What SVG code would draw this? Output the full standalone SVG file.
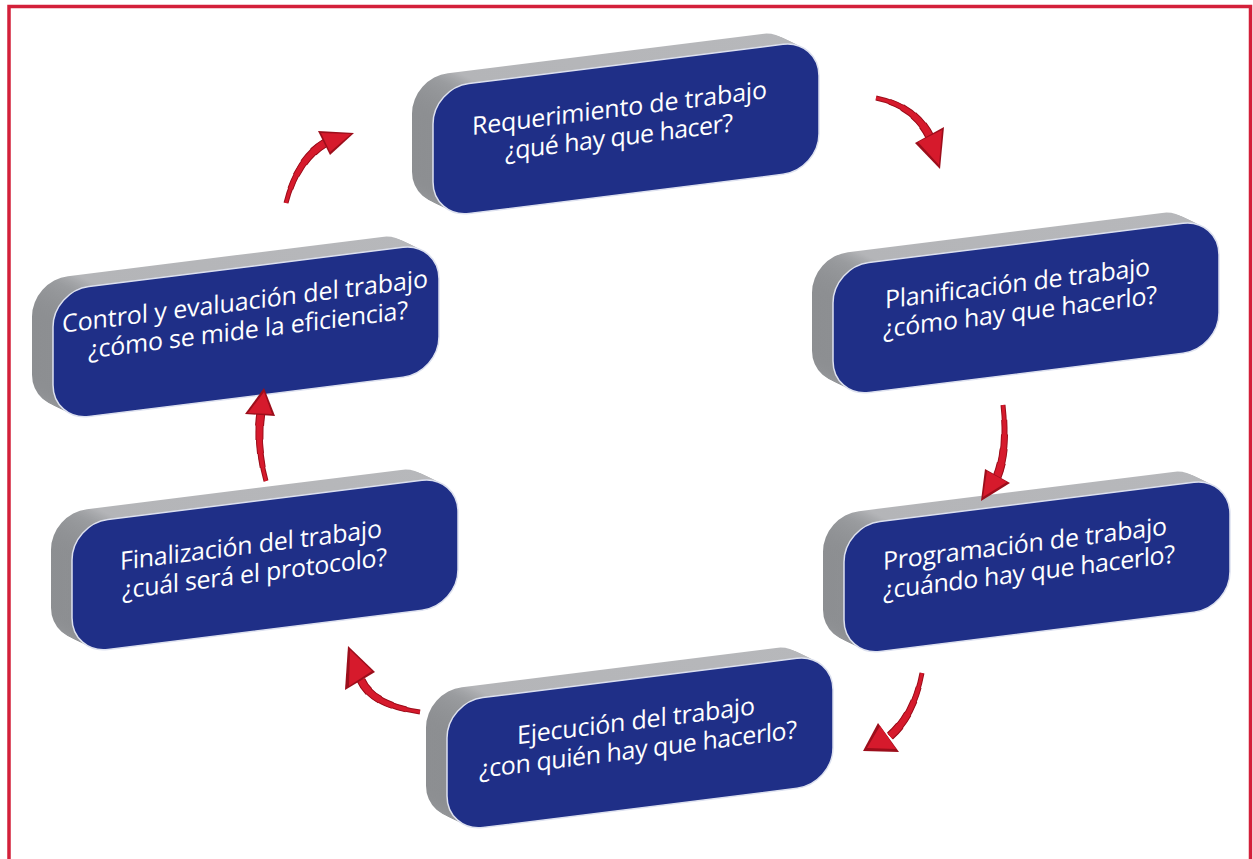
<svg xmlns="http://www.w3.org/2000/svg" xmlns:xlink="http://www.w3.org/1999/xlink" width="1253" height="859" viewBox="0 0 1253 859">
  <style>
    .face { fill: #1f2f87; stroke: #dde1ef; stroke-width: 1.5; }
    .label { font-family: "Open Sans", "Noto Sans", "DejaVu Sans", sans-serif; font-size: 25px; fill: #ffffff; }
    .dk { fill: none; stroke: #9c0e1b; stroke-linecap: butt; }
    .lt { fill: none; stroke: #d61a2c; stroke-linecap: butt; }
    /* tapered shafts: each wider layer starts further along the curve */
    .w1 { stroke-width: 5; }
    .w2 { stroke-width: 6; stroke-dasharray: 0 20 80 0; }
    .w3 { stroke-width: 7; stroke-dasharray: 0 40 60 0; }
    .w4 { stroke-width: 8; stroke-dasharray: 0 60 40 0; }
    .w5 { stroke-width: 9; stroke-dasharray: 0 80 20 0; }
    .v1 { stroke-width: 3; }
    .v2 { stroke-width: 4; stroke-dasharray: 0 20 80 0; }
    .v3 { stroke-width: 5; stroke-dasharray: 0 40 60 0; }
    .v4 { stroke-width: 6; stroke-dasharray: 0 60 40 0; }
    .v5 { stroke-width: 6.8; stroke-dasharray: 0 80 20 0; }
    .head-dark { fill: #9c0e1b; }
    .head { fill: #d61a2c; }
    .frame { fill: none; stroke: #d3203a; stroke-width: 3.5; }
  </style>
  <defs>
    <!-- shading of the extruded side: darker on the left face, lighter on top -->
    <linearGradient id="side" x1="0" y1="0" x2="1" y2="0">
      <stop offset="0" stop-color="#8c8e91"/>
      <stop offset="0.06" stop-color="#9a9c9f"/>
      <stop offset="0.12" stop-color="#b4b5b8"/>
      <stop offset="1" stop-color="#b7b8bb"/>
    </linearGradient>
    <rect id="slab" width="386" height="130" rx="36" fill="url(#side)"/>
    <!-- a 3D block: stacked slabs for depth, blue face in front -->
    <g id="block">
      <use href="#slab" x="-21" y="-13"/>
      <use href="#slab" x="-18.9" y="-11.7"/>
      <use href="#slab" x="-16.8" y="-10.4"/>
      <use href="#slab" x="-14.7" y="-9.1"/>
      <use href="#slab" x="-12.6" y="-7.8"/>
      <use href="#slab" x="-10.5" y="-6.5"/>
      <use href="#slab" x="-8.4" y="-5.2"/>
      <use href="#slab" x="-6.3" y="-3.9"/>
      <use href="#slab" x="-4.2" y="-2.6"/>
      <use href="#slab" x="-2.1" y="-1.3"/>
      <rect class="face" width="386" height="130" rx="36"/>
    </g>
    <!-- curved arrow shafts, reused for the dark underside and the red top -->
    <path id="s1" pathLength="100" d="M876,98 Q915,106 930,137"/>
    <path id="s2" pathLength="100" d="M1003,405 Q1008,450 997,477"/>
    <path id="s3" pathLength="100" d="M922,673 Q914,715 890,736"/>
    <path id="s4" pathLength="100" d="M420,712 Q372,705 361,680"/>
    <path id="s5" pathLength="100" d="M266,481 Q256,445 261,412"/>
    <path id="s6" pathLength="100" d="M286,203 Q297,160 325,143"/>
    <g id="a1">
      <use href="#s1" class="dk w1"/><use href="#s1" class="dk w2"/><use href="#s1" class="dk w3"/><use href="#s1" class="dk w4"/><use href="#s1" class="dk w5"/>
      <use href="#s1" class="lt v1"/><use href="#s1" class="lt v2"/><use href="#s1" class="lt v3"/><use href="#s1" class="lt v4"/><use href="#s1" class="lt v5"/>
    </g>
    <g id="a2">
      <use href="#s2" class="dk w1"/><use href="#s2" class="dk w2"/><use href="#s2" class="dk w3"/><use href="#s2" class="dk w4"/><use href="#s2" class="dk w5"/>
      <use href="#s2" class="lt v1"/><use href="#s2" class="lt v2"/><use href="#s2" class="lt v3"/><use href="#s2" class="lt v4"/><use href="#s2" class="lt v5"/>
    </g>
    <g id="a3">
      <use href="#s3" class="dk w1"/><use href="#s3" class="dk w2"/><use href="#s3" class="dk w3"/><use href="#s3" class="dk w4"/><use href="#s3" class="dk w5"/>
      <use href="#s3" class="lt v1"/><use href="#s3" class="lt v2"/><use href="#s3" class="lt v3"/><use href="#s3" class="lt v4"/><use href="#s3" class="lt v5"/>
    </g>
    <g id="a4">
      <use href="#s4" class="dk w1"/><use href="#s4" class="dk w2"/><use href="#s4" class="dk w3"/><use href="#s4" class="dk w4"/><use href="#s4" class="dk w5"/>
      <use href="#s4" class="lt v1"/><use href="#s4" class="lt v2"/><use href="#s4" class="lt v3"/><use href="#s4" class="lt v4"/><use href="#s4" class="lt v5"/>
    </g>
    <g id="a5">
      <use href="#s5" class="dk w1"/><use href="#s5" class="dk w2"/><use href="#s5" class="dk w3"/><use href="#s5" class="dk w4"/><use href="#s5" class="dk w5"/>
      <use href="#s5" class="lt v1"/><use href="#s5" class="lt v2"/><use href="#s5" class="lt v3"/><use href="#s5" class="lt v4"/><use href="#s5" class="lt v5"/>
    </g>
    <g id="a6">
      <use href="#s6" class="dk w1"/><use href="#s6" class="dk w2"/><use href="#s6" class="dk w3"/><use href="#s6" class="dk w4"/><use href="#s6" class="dk w5"/>
      <use href="#s6" class="lt v1"/><use href="#s6" class="lt v2"/><use href="#s6" class="lt v3"/><use href="#s6" class="lt v4"/><use href="#s6" class="lt v5"/>
    </g>
  </defs>

  <rect width="1253" height="859" fill="#ffffff"/>
  <path class="frame" d="M9,870 V6.5 H1250.5 V870"/>

  <g id="node-requerimiento" transform="translate(433,88) skewY(-7.125)">
    <use href="#block"/>
    <text class="label" x="39" y="52" textLength="295">Requerimiento de trabajo</text>
    <text class="label" x="72" y="81" textLength="228">¿qué hay que hacer?</text>
  </g>

  <g id="node-planificacion" transform="translate(833,267) skewY(-7.125)">
    <use href="#block"/>
    <text class="label" x="52" y="48" textLength="265">Planificación de trabajo</text>
    <text class="label" x="50" y="77" textLength="274">¿cómo hay que hacerlo?</text>
  </g>

  <g id="node-programacion" transform="translate(844,526) skewY(-7.125)">
    <use href="#block"/>
    <text class="label" x="39" y="49" textLength="284">Programación de trabajo</text>
    <text class="label" x="39" y="78" textLength="292">¿cuándo hay que hacerlo?</text>
  </g>

  <g id="node-ejecucion" transform="translate(447,702) skewY(-7.125)">
    <use href="#block"/>
    <text class="label" x="70" y="51" textLength="238">Ejecución del trabajo</text>
    <text class="label" x="32" y="80" textLength="318">¿con quién hay que hacerlo?</text>
  </g>

  <g id="node-finalizacion" transform="translate(72,524) skewY(-7.125)">
    <use href="#block"/>
    <text class="label" x="48" y="52" textLength="262">Finalización del trabajo</text>
    <text class="label" x="50" y="81" textLength="265">¿cuál será el protocolo?</text>
  </g>

  <g id="node-control" transform="translate(53,291) skewY(-7.125)">
    <use href="#block"/>
    <text class="label" x="9" y="43" textLength="366">Control y evaluación del trabajo</text>
    <text class="label" x="35" y="72" textLength="320">¿cómo se mide la eficiencia?</text>
  </g>

  <g id="connectors">
    <!-- requerimiento -> planificación -->
    <g>
      <use href="#a1"/>
      <polygon class="head-dark" points="915,143 944,127 940,169"/>
      <polygon class="head" points="918,142 942,130 939,165"/>
    </g>
    <!-- planificación -> programación -->
    <g>
      <use href="#a2"/>
      <polygon class="head-dark" points="985,469 1010,483 981,501"/>
      <polygon class="head" points="987,471 1007,482 983,497"/>
    </g>
    <!-- programación -> ejecución -->
    <g>
      <use href="#a3"/>
      <polygon class="head-dark" points="878,723 899,752 863,751"/>
      <polygon class="head" points="880,726 896,749 867,748"/>
    </g>
    <!-- ejecución -> finalización -->
    <g>
      <use href="#a4"/>
      <polygon class="head-dark" points="348,646 345,690 375,672"/>
      <polygon class="head" points="350,650 349,686 372,671"/>
    </g>
    <!-- finalización -> control -->
    <g>
      <use href="#a5"/>
      <polygon class="head-dark" points="245,414 264,388 275,416"/>
      <polygon class="head" points="248,413 264,392 272,414"/>
    </g>
    <!-- control -> requerimiento -->
    <g>
      <use href="#a6"/>
      <polygon class="head-dark" points="318,131 354,133 330,155"/>
      <polygon class="head" points="321,133 351,134 330,152"/>
    </g>
  </g>
</svg>
